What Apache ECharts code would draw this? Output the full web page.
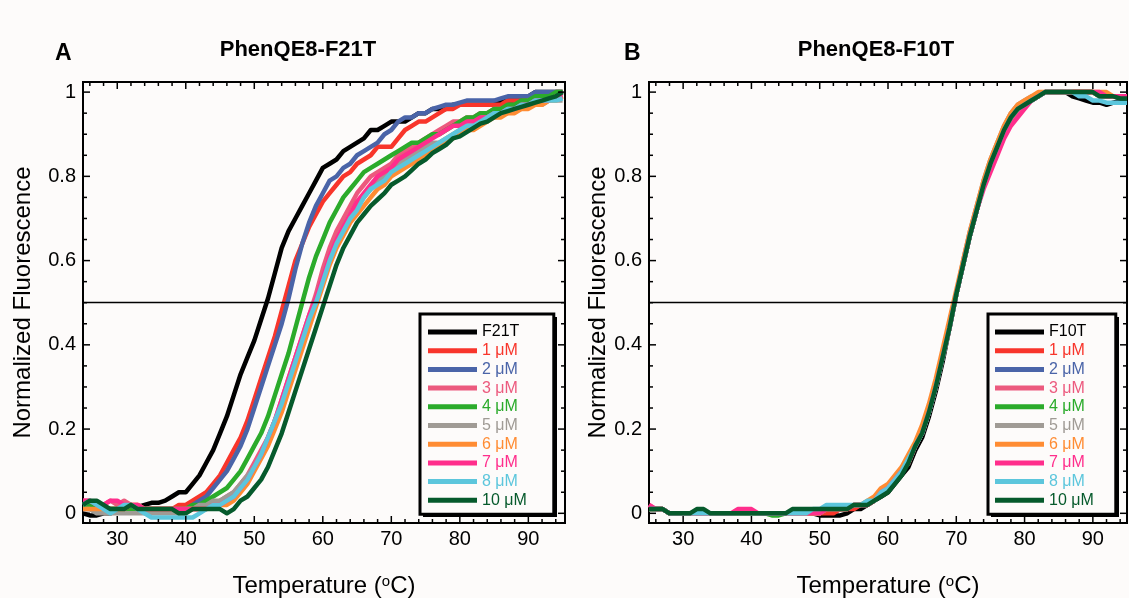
<!DOCTYPE html>
<html>
<head>
<meta charset="utf-8">
<script src="https://cdn.jsdelivr.net/npm/echarts@6.0.0/dist/echarts.min.js"></script>
<style>
html,body{margin:0;padding:0;background:#fdfbfa;}
#chart{width:1129px;height:598px;}
</style>
</head>
<body>
<div id="chart"></div>
<script>
// ---------------- DATA ----------------
const temps = [25,26,27,28,29,30,31,32,33,34,35,36,37,38,39,40,41,42,43,44,45,46,47,48,49,50,51,52,53,54,55,56,57,58,59,60,61,62,63,64,65,66,67,68,69,70,71,72,73,74,75,76,77,78,79,80,81,82,83,84,85,86,87,88,89,90,91,92,93,94,95];

const xMajorTicks = [30,40,50,60,70,80,90];
const xMinorTicks = [26,28,32,34,36,38,42,44,46,48,52,54,56,58,62,64,66,68,72,74,76,78,82,84,86,88,92,94];
const yMajorTicks = [0,0.2,0.4,0.6,0.8,1];
const yMinorTicks = [0.05,0.1,0.15,0.25,0.3,0.35,0.45,0.5,0.55,0.65,0.7,0.75,0.85,0.9,0.95];

const seriesNamesA = ['F21T','1 μM','2 μM','3 μM','4 μM','5 μM','6 μM','7 μM','8 μM','10 μM'];
const seriesNamesB = ['F10T','1 μM','2 μM','3 μM','4 μM','5 μM','6 μM','7 μM','8 μM','10 μM'];

// Panel A: PhenQE8-F21T
const a_F21T = [0.00,-0.005,-0.005,0.00,0.00,0.005,0.01,0.01,0.015,0.02,
 0.025,0.025,0.03,0.04,0.05,0.05,0.07,0.09,0.12,0.15,
 0.19,0.23,0.28,0.33,0.37,0.41,0.46,0.51,0.57,0.63,
 0.67,0.70,0.73,0.76,0.79,0.82,0.83,0.84,0.86,0.87,
 0.88,0.89,0.91,0.91,0.92,0.93,0.93,0.93,0.94,0.95,
 0.95,0.96,0.96,0.96,0.97,0.97,0.97,0.97,0.97,0.97,
 0.97,0.98,0.98,0.98,0.98,0.99,1.00,1.00,1.00,1.00,
 1.00];
const a_1uM = [0.02,0.02,0.01,0.01,0.01,0.01,0.01,0.01,0.01,0.01,
 0.01,0.01,0.01,0.01,0.02,0.02,0.03,0.04,0.05,0.07,
 0.09,0.12,0.15,0.18,0.22,0.27,0.32,0.37,0.42,0.48,
 0.54,0.60,0.64,0.68,0.71,0.74,0.76,0.78,0.80,0.81,
 0.83,0.84,0.85,0.87,0.87,0.87,0.89,0.91,0.92,0.93,
 0.93,0.94,0.95,0.96,0.96,0.97,0.97,0.97,0.97,0.97,
 0.97,0.97,0.98,0.98,0.98,0.985,0.99,0.99,0.99,1.00,
 1.00];
const a_2uM = [0.01,0.01,0.01,0.01,0.01,0.01,0.01,0.01,0.01,0.01,
 0.01,0.01,0.01,0.01,0.01,0.01,0.02,0.03,0.04,0.06,
 0.08,0.10,0.13,0.16,0.20,0.25,0.30,0.35,0.40,0.45,
 0.51,0.58,0.64,0.69,0.73,0.76,0.79,0.80,0.82,0.83,
 0.85,0.86,0.87,0.88,0.90,0.91,0.93,0.94,0.94,0.95,
 0.95,0.96,0.965,0.97,0.97,0.975,0.98,0.98,0.98,0.98,
 0.98,0.985,0.99,0.99,0.99,0.99,1.00,1.00,1.00,1.00,
 1.00];
const a_3uM = [0.03,0.03,0.02,0.02,0.03,0.02,0.03,0.02,0.02,0.01,
 0.01,0.01,0.01,0.01,0.01,0.01,0.01,0.01,0.02,0.02,
 0.03,0.04,0.05,0.07,0.09,0.12,0.15,0.18,0.22,0.27,
 0.32,0.37,0.42,0.47,0.52,0.58,0.63,0.67,0.70,0.73,
 0.76,0.78,0.80,0.81,0.82,0.83,0.85,0.86,0.87,0.88,
 0.89,0.90,0.91,0.92,0.93,0.93,0.94,0.94,0.95,0.95,
 0.96,0.96,0.96,0.97,0.97,0.98,0.98,0.98,0.99,0.99,
 0.99];
const a_4uM = [0.02,0.02,0.02,0.01,0.01,0.01,0.01,0.01,0.01,0.01,
 0.01,0.01,0.01,0.01,0.01,0.01,0.02,0.02,0.03,0.04,
 0.05,0.06,0.08,0.10,0.13,0.16,0.19,0.23,0.28,0.33,
 0.38,0.44,0.50,0.56,0.61,0.65,0.69,0.72,0.75,0.77,
 0.79,0.81,0.82,0.83,0.84,0.85,0.86,0.87,0.88,0.88,
 0.89,0.90,0.90,0.91,0.92,0.93,0.94,0.94,0.95,0.95,
 0.96,0.96,0.97,0.97,0.98,0.98,0.99,0.99,0.99,1.00,
 1.00];
const a_5uM = [0.01,0.01,0.00,0.00,0.00,0.00,0.00,0.00,0.00,0.00,
 0.00,0.00,0.00,0.00,0.00,0.01,0.01,0.02,0.02,0.03,
 0.03,0.04,0.05,0.07,0.09,0.11,0.14,0.18,0.22,0.26,
 0.31,0.36,0.41,0.46,0.51,0.56,0.61,0.65,0.68,0.71,
 0.73,0.75,0.77,0.79,0.80,0.81,0.83,0.84,0.85,0.86,
 0.87,0.88,0.88,0.89,0.90,0.91,0.92,0.92,0.93,0.94,
 0.94,0.95,0.95,0.96,0.96,0.97,0.97,0.97,0.98,0.98,
 0.98];
const a_6uM = [0.01,0.01,0.01,0.01,0.01,0.01,0.01,0.02,0.02,0.01,
 0.01,0.01,0.01,0.01,0.01,0.01,0.01,0.01,0.01,0.02,
 0.02,0.02,0.03,0.05,0.07,0.10,0.13,0.16,0.20,0.24,
 0.29,0.34,0.39,0.44,0.49,0.54,0.59,0.63,0.66,0.69,
 0.71,0.73,0.75,0.77,0.78,0.80,0.81,0.82,0.83,0.84,
 0.85,0.86,0.87,0.88,0.89,0.90,0.91,0.91,0.92,0.93,
 0.94,0.94,0.95,0.95,0.96,0.96,0.97,0.97,0.98,0.98,
 0.99];
const a_7uM = [0.03,0.03,0.02,0.02,0.03,0.03,0.02,0.02,0.02,0.01,
 0.01,0.01,0.01,0.01,0.01,0.01,0.01,0.01,0.01,0.02,
 0.02,0.03,0.04,0.06,0.08,0.11,0.14,0.18,0.22,0.27,
 0.32,0.37,0.42,0.47,0.51,0.56,0.61,0.65,0.68,0.71,
 0.74,0.76,0.78,0.80,0.81,0.82,0.84,0.85,0.86,0.87,
 0.88,0.89,0.90,0.91,0.92,0.92,0.93,0.93,0.94,0.94,
 0.95,0.95,0.96,0.96,0.97,0.97,0.98,0.98,0.98,0.99,
 0.99];
const a_8uM = [0.02,0.03,0.02,0.01,0.00,0.01,0.02,0.02,0.01,0.00,
 -0.01,-0.01,-0.01,-0.01,-0.01,-0.01,-0.01,0.00,0.01,0.02,
 0.02,0.03,0.04,0.06,0.08,0.11,0.14,0.18,0.22,0.26,
 0.31,0.36,0.41,0.46,0.50,0.55,0.60,0.64,0.67,0.70,
 0.72,0.75,0.77,0.78,0.79,0.81,0.82,0.83,0.84,0.85,
 0.86,0.87,0.88,0.89,0.90,0.91,0.92,0.92,0.93,0.94,
 0.95,0.95,0.96,0.96,0.97,0.97,0.98,0.98,0.98,0.98,
 0.985];
const a_10uM = [0.02,0.03,0.03,0.02,0.01,0.01,0.01,0.02,0.01,0.01,
 0.01,0.01,0.01,0.01,0.00,0.00,0.01,0.01,0.01,0.01,
 0.01,0.00,0.01,0.03,0.04,0.06,0.08,0.11,0.15,0.19,
 0.24,0.29,0.34,0.39,0.44,0.49,0.54,0.59,0.63,0.66,
 0.69,0.71,0.73,0.745,0.76,0.78,0.79,0.80,0.815,0.83,
 0.84,0.855,0.865,0.875,0.89,0.895,0.905,0.915,0.925,0.93,
 0.94,0.95,0.955,0.96,0.965,0.97,0.975,0.98,0.985,0.99,
 1.00];

// Panel B: PhenQE8-F10T
const b_F10T = [0.01,0.01,0.01,0.00,0.00,0.00,0.00,0.00,0.00,0.00,
 0.00,0.00,0.00,0.00,0.00,0.00,0.00,0.00,0.00,0.00,
 0.00,0.00,0.00,0.00,0.00,-0.005,-0.005,-0.005,-0.005,0.00,
 0.01,0.01,0.02,0.03,0.04,0.05,0.07,0.09,0.11,0.15,
 0.18,0.23,0.29,0.36,0.44,0.52,0.59,0.66,0.72,0.78,
 0.83,0.87,0.91,0.94,0.96,0.97,0.98,0.99,1.00,1.00,
 1.00,1.00,0.99,0.985,0.98,0.975,0.975,0.97,0.975,0.98,
 0.98];
const b_1uM = [0.01,0.01,0.01,0.00,0.00,0.00,0.00,0.00,0.00,0.00,
 0.00,0.00,0.00,0.00,0.00,0.00,0.00,0.00,0.00,0.00,
 0.00,0.00,0.00,0.00,0.00,0.00,0.00,0.00,0.01,0.01,
 0.01,0.02,0.02,0.03,0.05,0.06,0.08,0.10,0.12,0.16,
 0.19,0.24,0.30,0.37,0.44,0.52,0.59,0.66,0.72,0.78,
 0.83,0.87,0.91,0.94,0.96,0.97,0.98,0.99,1.00,1.00,
 1.00,1.00,1.00,1.00,1.00,1.00,0.99,0.99,0.99,0.99,
 0.99];
const b_2uM = [0.01,0.01,0.01,0.00,0.00,0.00,0.00,0.00,0.00,0.00,
 0.00,0.00,0.00,0.00,0.00,0.00,0.00,0.00,0.00,0.00,
 0.00,0.00,0.00,0.00,0.00,0.00,0.01,0.01,0.01,0.01,
 0.02,0.02,0.02,0.03,0.05,0.06,0.08,0.10,0.12,0.16,
 0.19,0.24,0.30,0.37,0.44,0.52,0.59,0.66,0.72,0.78,
 0.83,0.87,0.91,0.94,0.96,0.97,0.98,0.99,1.00,1.00,
 1.00,1.00,1.00,1.00,1.00,1.00,0.99,0.99,0.99,0.99,
 0.99];
const b_3uM = [0.02,0.01,0.01,0.00,0.00,0.00,0.00,0.00,0.00,0.00,
 0.00,0.00,0.00,0.00,0.00,0.00,0.00,0.00,0.00,0.00,
 0.00,0.00,0.00,0.00,0.00,0.00,0.01,0.01,0.01,0.01,
 0.02,0.02,0.02,0.03,0.05,0.06,0.08,0.10,0.12,0.16,
 0.19,0.24,0.30,0.37,0.44,0.52,0.59,0.66,0.72,0.78,
 0.83,0.86,0.90,0.93,0.95,0.965,0.98,0.99,1.00,1.00,
 1.00,1.00,1.00,1.00,1.00,1.00,0.99,0.99,0.99,0.99,
 0.99];
const b_4uM = [0.01,0.01,0.01,0.00,0.00,0.00,0.00,0.00,0.00,0.00,
 0.00,0.00,0.00,0.00,0.00,0.00,0.00,0.00,-0.005,-0.005,
 0.00,0.00,0.00,0.00,0.00,0.00,0.01,0.01,0.01,0.01,
 0.02,0.02,0.02,0.03,0.05,0.06,0.08,0.10,0.12,0.16,
 0.19,0.24,0.30,0.37,0.44,0.52,0.59,0.66,0.72,0.78,
 0.83,0.87,0.91,0.94,0.96,0.97,0.98,0.99,1.00,1.00,
 1.00,1.00,1.00,1.00,1.00,1.00,0.99,0.99,0.99,0.99,
 0.99];
const b_5uM = [0.01,0.01,0.01,0.00,0.00,0.00,0.00,0.00,0.00,0.00,
 0.00,0.00,0.00,0.00,0.00,0.00,0.00,0.00,0.00,0.00,
 0.00,0.00,0.00,0.00,0.00,0.00,0.01,0.01,0.01,0.01,
 0.02,0.02,0.02,0.03,0.05,0.06,0.08,0.10,0.12,0.16,
 0.19,0.24,0.30,0.37,0.44,0.52,0.60,0.67,0.73,0.79,
 0.84,0.88,0.92,0.95,0.97,0.98,0.99,0.99,1.00,1.00,
 1.00,1.00,1.00,1.00,1.00,1.00,0.99,0.99,0.99,0.99,
 0.99];
const b_6uM = [0.01,0.01,0.01,0.00,0.00,0.00,0.00,0.00,0.00,0.00,
 0.00,0.00,0.00,0.00,0.00,0.00,0.00,0.00,0.00,0.00,
 0.00,0.00,0.00,0.00,0.00,0.00,0.01,0.01,0.01,0.01,
 0.02,0.02,0.03,0.04,0.06,0.07,0.09,0.11,0.14,0.17,
 0.21,0.26,0.32,0.39,0.46,0.53,0.60,0.67,0.73,0.79,
 0.84,0.88,0.92,0.95,0.97,0.98,0.99,1.00,1.00,1.00,
 1.00,1.00,1.00,1.00,1.00,1.00,1.00,1.00,0.99,0.99,
 0.99];
const b_7uM = [0.02,0.01,0.01,0.00,0.00,0.00,0.00,0.00,0.00,0.00,
 0.00,0.00,0.00,0.01,0.01,0.01,0.00,0.00,0.00,0.00,
 0.00,0.00,0.00,0.00,0.00,0.00,0.01,0.01,0.01,0.01,
 0.02,0.02,0.02,0.03,0.05,0.06,0.08,0.10,0.12,0.16,
 0.19,0.24,0.30,0.37,0.44,0.52,0.59,0.66,0.72,0.77,
 0.81,0.85,0.89,0.92,0.94,0.96,0.98,0.99,1.00,1.00,
 1.00,1.00,1.00,1.00,1.00,1.00,1.00,0.99,0.99,0.99,
 0.99];
const b_8uM = [0.01,0.01,0.01,0.00,0.00,0.00,0.00,0.00,0.00,0.00,
 0.00,0.00,0.00,0.00,0.00,0.00,0.00,0.00,0.00,0.00,
 0.00,0.00,0.00,0.00,0.01,0.01,0.02,0.02,0.02,0.02,
 0.02,0.02,0.03,0.03,0.05,0.06,0.08,0.10,0.13,0.16,
 0.19,0.24,0.30,0.37,0.44,0.52,0.59,0.66,0.72,0.78,
 0.83,0.87,0.91,0.94,0.96,0.97,0.98,0.99,1.00,1.00,
 1.00,1.00,1.00,0.99,0.99,0.98,0.98,0.975,0.975,0.975,
 0.975];
const b_10uM = [0.01,0.01,0.01,0.00,0.00,0.00,0.00,0.01,0.01,0.00,
 0.00,0.00,0.00,0.00,0.00,0.00,0.00,0.00,0.00,0.00,
 0.00,0.01,0.01,0.01,0.01,0.01,0.01,0.01,0.01,0.01,
 0.02,0.02,0.02,0.03,0.04,0.05,0.07,0.09,0.12,0.16,
 0.19,0.24,0.30,0.37,0.44,0.52,0.59,0.66,0.72,0.78,
 0.83,0.87,0.91,0.94,0.96,0.97,0.98,0.99,1.00,1.00,
 1.00,1.00,1.00,1.00,1.00,1.00,0.99,0.99,0.99,0.985,
 0.985];

const valuesA = [a_F21T,a_1uM,a_2uM,a_3uM,a_4uM,a_5uM,a_6uM,a_7uM,a_8uM,a_10uM];
const valuesB = [b_F10T,b_1uM,b_2uM,b_3uM,b_4uM,b_5uM,b_6uM,b_7uM,b_8uM,b_10uM];

// ---------------- STYLE ----------------
const colors = ['#000000','#f8352b','#4a64a8','#ec5a7e','#2bab2b','#a09b95','#ff8c33','#ff2e8c','#5cc6dc','#065a2c'];
const FONT = '"Liberation Sans", Arial, sans-serif';
const BG = '#fdfbfa';
const MAJOR_LEN = 7, MINOR_LEN = 4;

const panels = [
  {grid:{left:83, top:82, width:482, height:441}, xmax:95.35, yNameGap:48, names:seriesNamesA, values:valuesA,
   legend:{left:420, top:314, padding:[10,27,6,8]}},
  {grid:{left:649, top:82, width:478, height:441}, xmax:95.0, yNameGap:37, names:seriesNamesB, values:valuesB,
   legend:{left:988, top:314, padding:[10,22,6,7]}}
];
const YMIN = -0.023, YMAX = 1.024, XMIN = 25;

// tick records: [value, side(0 bottom,1 top,2 left,3 right), major(1)/minor(0)]
function tickRecords() {
  const out = [];
  [0,1].forEach(side => {
    xMajorTicks.forEach(v => out.push([v, side, 1]));
    xMinorTicks.forEach(v => out.push([v, side, 0]));
  });
  [2,3].forEach(side => {
    yMajorTicks.forEach(v => out.push([v, side, 1]));
    yMinorTicks.forEach(v => out.push([v, side, 0]));
  });
  return out;
}

const grids = [], xAxes = [], yAxes = [], series = [], legends = [];

panels.forEach((p, gi) => {
  grids.push(Object.assign({show:true, borderColor:'#000', borderWidth:2, backgroundColor:'transparent',
    containLabel:false, outerBoundsMode:'none'}, p.grid));
  const xi = xAxes.length, yi = yAxes.length;
  xAxes.push({
    type:'value', gridIndex:gi, min:XMIN, max:p.xmax, position:'bottom',
    splitLine:{show:false}, axisLine:{show:false, onZero:false}, axisTick:{show:false},
    axisLabel:{show:true, customValues:xMajorTicks, margin:6, fontSize:20, color:'#000', fontFamily:FONT},
    name:'Temperature ({s|o}C)', nameLocation:'middle', nameGap:51,
    nameTextStyle:{fontSize:24, color:'#000', fontFamily:FONT,
      rich:{s:{fontSize:15, color:'#000', fontFamily:FONT, verticalAlign:'top', padding:[0,0,9,0]}}}
  });
  yAxes.push({
    type:'value', gridIndex:gi, min:YMIN, max:YMAX, position:'left',
    splitLine:{show:false}, axisLine:{show:false, onZero:false}, axisTick:{show:false},
    axisLabel:{show:true, customValues:yMajorTicks, margin:7, fontSize:20, color:'#000', fontFamily:FONT},
    name:'Normalized Fluorescence', nameLocation:'middle', nameGap:p.yNameGap,
    nameTextStyle:{fontSize:24, color:'#000', fontFamily:FONT}
  });

  p.names.forEach((nm, si) => {
    const s = {
      type:'line', name:nm, xAxisIndex:xi, yAxisIndex:yi,
      data: temps.map((t, i) => [t, p.values[si][i]]),
      showSymbol:false, symbol:'none', color:colors[si],
      lineStyle:{width:4.5, color:colors[si], join:'round'},
      clip:true, animation:false, silent:true
    };
    if (si === p.names.length - 1) {
      s.markLine = {silent:true, symbol:'none', label:{show:false},
        lineStyle:{color:'#000', width:1.3, type:'solid'},
        data:[{yAxis:0.5}]};
    }
    series.push(s);
  });

  // axis ticks, placed through the axes' own scales
  const xmax = p.xmax;
  series.push({
    type:'custom', name:'ticks' + gi, xAxisIndex:xi, yAxisIndex:yi, silent:true, clip:false, z:5,
    encode:{x:0, y:-1},
    data: tickRecords(),
    renderItem: (params, api) => {
      const v = api.value(0), side = api.value(1), len = api.value(2) ? MAJOR_LEN : MINOR_LEN;
      let x1, y1, x2, y2, pt;
      if (side === 0) { pt = api.coord([v, YMIN]); x1 = x2 = pt[0]; y1 = pt[1]; y2 = pt[1] - len; }
      else if (side === 1) { pt = api.coord([v, YMAX]); x1 = x2 = pt[0]; y1 = pt[1]; y2 = pt[1] + len; }
      else if (side === 2) { pt = api.coord([XMIN, v]); y1 = y2 = pt[1]; x1 = pt[0]; x2 = pt[0] + len; }
      else { pt = api.coord([xmax, v]); y1 = y2 = pt[1]; x1 = pt[0]; x2 = pt[0] - len; }
      return {type:'line', shape:{x1, y1, x2, y2}, style:{stroke:'#000', lineWidth:1.5}};
    }
  });

  legends.push({
    show:true, orient:'vertical', left:p.legend.left, top:p.legend.top,
    data: p.names.map((nm, si) => ({name:nm, textStyle:{color:colors[si]}})),
    icon:'rect', itemWidth:49, itemHeight:5, itemGap:2.7, itemTextGap:3,
    textStyle:{fontSize:16, lineHeight:16, fontFamily:FONT},
    padding:p.legend.padding,
    backgroundColor:BG, borderColor:'#000', borderWidth:3, borderRadius:0,
    selectedMode:false, z:10
  });
});

const option = {
  backgroundColor: BG,
  animation:false,
  textStyle:{fontFamily:FONT},
  grid: grids,
  xAxis: xAxes,
  yAxis: yAxes,
  legend: legends,
  series: series,
  graphic: [
    // drop shadows behind the two legend boxes
    {type:'rect', z:9, shape:{x:423, y:317, width:134, height:200}, style:{fill:'#000'}},
    {type:'rect', z:9, shape:{x:991, y:317, width:128, height:200}, style:{fill:'#000'}},
    {type:'text', left:55, top:42, style:{text:'A', fontSize:23, fontWeight:'bold', fill:'#000', fontFamily:FONT}},
    {type:'text', left:624, top:42, style:{text:'B', fontSize:23, fontWeight:'bold', fill:'#000', fontFamily:FONT}},
    {type:'text', x:298, y:50, style:{text:'PhenQE8-F21T', fontSize:22, fontWeight:'bold', fill:'#000', fontFamily:FONT, align:'center', verticalAlign:'middle'}},
    {type:'text', x:876, y:50, style:{text:'PhenQE8-F10T', fontSize:22, fontWeight:'bold', fill:'#000', fontFamily:FONT, align:'center', verticalAlign:'middle'}}
  ]
};

const chart = echarts.init(document.getElementById('chart'), null, {renderer:'canvas'});
chart.setOption(option);
</script>
</body>
</html>
